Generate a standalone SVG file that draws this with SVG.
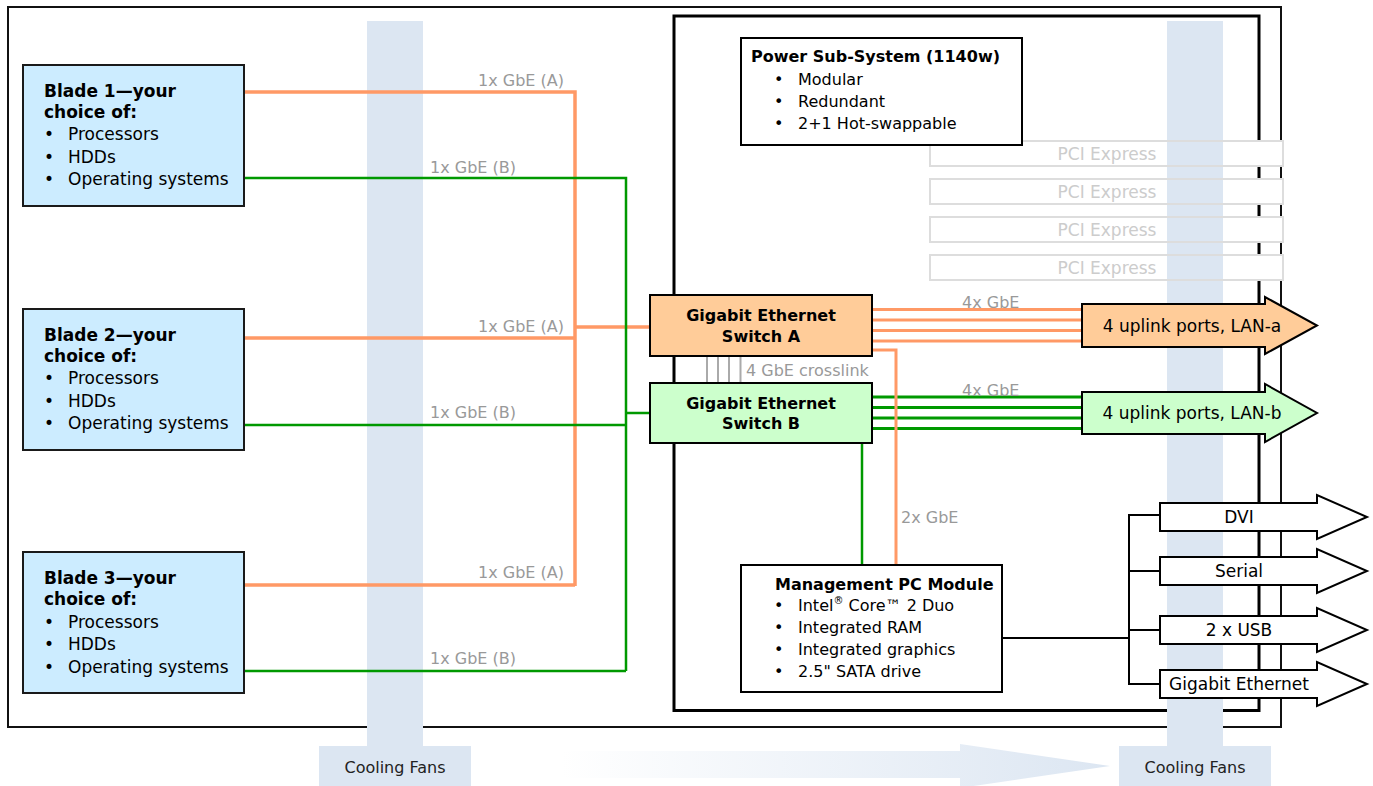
<svg xmlns="http://www.w3.org/2000/svg" width="1373" height="786" viewBox="0 0 1373 786">
<style>
text{font-family:"DejaVu Sans",Verdana,sans-serif;fill:#000}
.b{font-weight:bold}
.blade{fill:#ccecff;stroke:#1a1a1a;stroke-width:2}
.bt{font-size:17px}
.lbl{font-size:16px;fill:#999}
.sw{stroke:#000;stroke-width:2}
.box{fill:#fff;stroke:#000;stroke-width:2}
.t16{font-size:16px}
.pci{fill:none;stroke:#dddddd;stroke-width:2}
.pcit{font-size:17px;fill:#cccccc;text-anchor:middle}
.bar{fill:#dce6f2}
.fan{font-size:16px;fill:#222;text-anchor:middle}
.or{fill:none;stroke:#ff9966;stroke-width:3.5}
.or2{fill:none;stroke:#ff9966;stroke-width:3}
.gr{fill:none;stroke:#009900;stroke-width:2.5}
.gr2{fill:none;stroke:#009900;stroke-width:3}
.bk{fill:none;stroke:#000;stroke-width:2}
.xl{fill:none;stroke:#aaaaaa;stroke-width:2}
.arr{stroke:#000;stroke-width:2}
.at{font-size:17px;text-anchor:middle}
.mid{text-anchor:middle}
</style>
<defs>
<linearGradient id="flow" x1="0" y1="0" x2="1" y2="0">
<stop offset="0" stop-color="#dce6f2" stop-opacity="0"/>
<stop offset="1" stop-color="#dce6f2" stop-opacity="1"/>
</linearGradient>
</defs>
<rect width="1373" height="786" fill="#fff"/>
<g id="chassis">
<rect x="8" y="7" width="1273" height="720" fill="none" stroke="#111" stroke-width="2"/>
<rect x="674" y="16" width="585" height="694.5" fill="none" stroke="#000" stroke-width="3"/>
</g>
<g id="pci-backgrounds" fill="#fff">
<rect x="930" y="141" width="353" height="25"/>
<rect x="930" y="179" width="353" height="25"/>
<rect x="930" y="217" width="353" height="25"/>
<rect x="930" y="255" width="353" height="25"/>
</g>
<g id="cooling-fans-left">
<rect class="bar" x="367" y="21" width="56" height="726"/>
<rect class="bar" x="319" y="746" width="152" height="40"/>
<text class="fan" x="395" y="773">Cooling Fans</text>
</g>
<g id="cooling-fans-right">
<rect class="bar" x="1167" y="21" width="56" height="726"/>
<rect class="bar" x="1119" y="746" width="152" height="40"/>
<text class="fan" x="1195" y="773">Cooling Fans</text>
</g>
<g id="airflow-arrow">
<polygon points="561,751 960,751 960,744 1110,766 960,788 960,778 561,778" fill="url(#flow)"/>
</g>
<g id="pci-express">
<rect class="pci" x="930" y="141" width="353" height="25"/><text class="pcit" x="1107" y="160">PCI Express</text>
<rect class="pci" x="930" y="179" width="353" height="25"/><text class="pcit" x="1107" y="198">PCI Express</text>
<rect class="pci" x="930" y="217" width="353" height="25"/><text class="pcit" x="1107" y="236">PCI Express</text>
<rect class="pci" x="930" y="255" width="353" height="25"/><text class="pcit" x="1107" y="274">PCI Express</text>
</g>
<g id="connectors">
<path class="or" d="M244,92 H575 V586 M244,338 H575 M244,585 H575 M575,327 H650"/>
<path class="gr" d="M244,178 H626 V671 M244,425 H626 M244,671 H626 M626,413 H650"/>
<path class="or2" d="M872,309.5 H1082 M872,320 H1082 M872,330.5 H1082 M872,341 H1082"/>
<path class="gr2" d="M872,397 H1082 M872,407.5 H1082 M872,418 H1082 M872,428.5 H1082"/>
<path class="or2" d="M872,350 H896 V564" stroke-width="2.5"/>
<path class="gr" d="M862,444 V564"/>
<path class="xl" d="M707,357 V382 M718,357 V382 M729,357 V382 M740.5,357 V382"/>
<path class="bk" d="M1002,638 H1129 M1129,514 V685 M1129,515 H1160 M1129,571 H1160 M1129,630 H1160 M1129,684 H1160"/>
<text class="lbl" x="564" y="86" text-anchor="end">1x GbE (A)</text>
<text class="lbl" x="430" y="173">1x GbE (B)</text>
<text class="lbl" x="564" y="332" text-anchor="end">1x GbE (A)</text>
<text class="lbl" x="430" y="418">1x GbE (B)</text>
<text class="lbl" x="564" y="578" text-anchor="end">1x GbE (A)</text>
<text class="lbl" x="430" y="664">1x GbE (B)</text>
<text class="lbl" x="746" y="376">4 GbE crosslink</text>
<text class="lbl" x="962" y="308">4x GbE</text>
<text class="lbl" x="962" y="396">4x GbE</text>
<text class="lbl" x="901" y="523">2x GbE</text>
</g>
<g id="blade-1">
<rect class="blade" x="23" y="65" width="221" height="141"/>
<text class="bt b" x="44" y="97">Blade 1—your</text>
<text class="bt b" x="44" y="118">choice of:</text>
<text class="bt" x="44" y="140">•</text><text class="bt" x="68" y="140">Processors</text>
<text class="bt" x="44" y="163">•</text><text class="bt" x="68" y="163">HDDs</text>
<text class="bt" x="44" y="185">•</text><text class="bt" x="68" y="185">Operating systems</text>
</g>
<g id="blade-2">
<rect class="blade" x="23" y="309" width="221" height="141"/>
<text class="bt b" x="44" y="341">Blade 2—your</text>
<text class="bt b" x="44" y="362">choice of:</text>
<text class="bt" x="44" y="384">•</text><text class="bt" x="68" y="384">Processors</text>
<text class="bt" x="44" y="407">•</text><text class="bt" x="68" y="407">HDDs</text>
<text class="bt" x="44" y="429">•</text><text class="bt" x="68" y="429">Operating systems</text>
</g>
<g id="blade-3">
<rect class="blade" x="23" y="552" width="221" height="141"/>
<text class="bt b" x="44" y="584">Blade 3—your</text>
<text class="bt b" x="44" y="605">choice of:</text>
<text class="bt" x="44" y="628">•</text><text class="bt" x="68" y="628">Processors</text>
<text class="bt" x="44" y="650">•</text><text class="bt" x="68" y="650">HDDs</text>
<text class="bt" x="44" y="673">•</text><text class="bt" x="68" y="673">Operating systems</text>
</g>
<g id="switch-a">
<rect class="sw" x="650" y="295" width="222" height="61" fill="#ffcc99"/>
<text class="t16 b mid" x="761" y="321">Gigabit Ethernet</text>
<text class="t16 b mid" x="761" y="342">Switch A</text>
</g>
<g id="switch-b">
<rect class="sw" x="650" y="383" width="222" height="60" fill="#ccffcc"/>
<text class="t16 b mid" x="761" y="409">Gigabit Ethernet</text>
<text class="t16 b mid" x="761" y="429">Switch B</text>
</g>
<g id="power-subsystem">
<rect class="box" x="741" y="38" width="281" height="107"/>
<text class="t16 b" x="751" y="62">Power Sub-System (1140w)</text>
<text class="t16" x="774" y="85">•</text><text class="t16" x="798" y="85">Modular</text>
<text class="t16" x="774" y="107">•</text><text class="t16" x="798" y="107">Redundant</text>
<text class="t16" x="774" y="129">•</text><text class="t16" x="798" y="129">2+1 Hot-swappable</text>
</g>
<g id="uplink-lan-a">
<polygon class="arr" fill="#ffcc99" points="1082,304 1265,304 1265,297 1317,325.5 1265,354 1265,347 1082,347"/>
<text class="at" x="1192" y="332">4 uplink ports, LAN-a</text>
</g>
<g id="uplink-lan-b">
<polygon class="arr" fill="#ccffcc" points="1082,392 1265,392 1265,384 1317,413 1265,442 1265,434 1082,434"/>
<text class="at" x="1192" y="419">4 uplink ports, LAN-b</text>
</g>
<g id="management-pc">
<rect class="box" x="741" y="565" width="261" height="127" stroke-width="1.5"/>
<text class="t16 b" x="775" y="590">Management PC Module</text>
<text class="t16" x="774" y="611">•</text><text class="t16" x="798" y="611">Intel<tspan font-size="10" dy="-7">®</tspan><tspan dy="7"> Core™ 2 Duo</tspan></text>
<text class="t16" x="774" y="633">•</text><text class="t16" x="798" y="633">Integrated RAM</text>
<text class="t16" x="774" y="655">•</text><text class="t16" x="798" y="655">Integrated graphics</text>
<text class="t16" x="774" y="677">•</text><text class="t16" x="798" y="677">2.5" SATA drive</text>
</g>
<g id="port-dvi">
<polygon class="arr" fill="#fff" points="1160,503 1317,503 1317,495 1367,517 1317,539 1317,531 1160,531"/>
<text class="at" x="1239" y="523">DVI</text>
</g>
<g id="port-serial">
<polygon class="arr" fill="#fff" points="1160,557 1317,557 1317,549 1367,571 1317,593 1317,585 1160,585"/>
<text class="at" x="1239" y="577">Serial</text>
</g>
<g id="port-usb">
<polygon class="arr" fill="#fff" points="1160,616 1317,616 1317,608 1367,630 1317,652 1317,644 1160,644"/>
<text class="at" x="1239" y="636">2 x USB</text>
</g>
<g id="port-gige">
<polygon class="arr" fill="#fff" points="1160,670 1317,670 1317,662 1367,684 1317,706 1317,698 1160,698"/>
<text class="at" x="1239" y="690">Gigabit Ethernet</text>
</g>
</svg>
